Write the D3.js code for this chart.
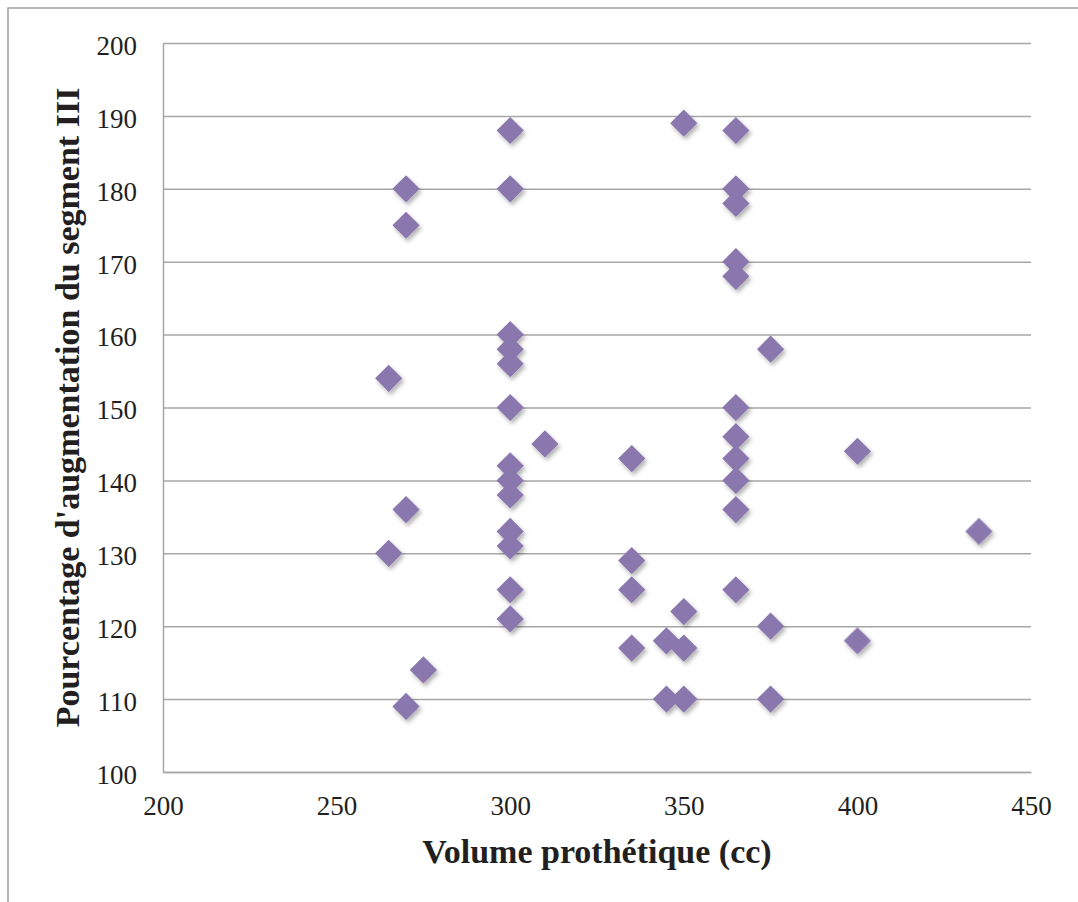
<!DOCTYPE html>
<html>
<head>
<meta charset="utf-8">
<title>Volume prothétique</title>
<script src="https://d3js.org/d3.v7.min.js"></script>
<style>
  body { margin: 0; background: #fff; }
  svg { display: block; }
  .tick text { font: 27px "Liberation Serif", serif; fill: #231f20; }
  .grid line { stroke: #a6a6a6; stroke-width: 1.5px; }
  .axis-title { font: bold 34px "Liberation Serif", serif; fill: #231f20; }
</style>
</head>
<body>
<script>

// volume (cc) of each patient
var volumes = [265, 265,
  270, 270, 270, 270,
  275,
  300, 300, 300, 300, 300, 300, 300, 300, 300, 300, 300, 300, 300,
  310,
  335, 335, 335, 335,
  345, 345,
  350, 350, 350, 350,
  365, 365, 365, 365, 365, 365, 365, 365, 365, 365, 365,
  375, 375, 375,
  400, 400,
  435];

// percentage increase of segment III
var percents = [154, 130,
  180, 175, 136, 109,
  114,
  188, 180, 160, 158, 156, 150, 142, 140, 138, 133, 131, 125, 121,
  145,
  143, 129, 125, 117,
  118, 110,
  189, 122, 117, 110,
  188, 180, 178, 170, 168, 150, 146, 143, 140, 136, 125,
  158, 120, 110,
  144, 118,
  133];

var xTicks = [200, 250, 300, 350, 400, 450];
var yTicks = [100, 110, 120, 130, 140, 150, 160, 170, 180, 190, 200];

var width = 1078, height = 902;
var plotLeft = 163, plotRight = 1031, plotTop = 43, plotBottom = 772;

var svg = d3.select("body").append("svg")
    .attr("width", width)
    .attr("height", height);

var defs = svg.append("defs");
var shadow = defs.append("filter")
    .attr("id", "shadow")
    .attr("x", "-50%").attr("y", "-50%")
    .attr("width", "200%").attr("height", "200%");
shadow.append("feDropShadow")
    .attr("dx", 2).attr("dy", 3)
    .attr("stdDeviation", 2)
    .attr("flood-color", "#000")
    .attr("flood-opacity", 0.3);

// outer frame (only top and left edges show)
svg.append("path")
    .attr("d", "M8,902V8H1078")
    .attr("fill", "none")
    .attr("stroke", "#a0a0a0")
    .attr("stroke-width", 1.5);

var x = d3.scaleLinear().domain([200, 450]).range([plotLeft, plotRight]);
var y = d3.scaleLinear().domain([100, 200]).range([plotBottom, plotTop]);

// y axis with gridlines
var yAxis = svg.append("g")
    .attr("class", "grid")
    .attr("transform", "translate(" + plotLeft + ",0)")
    .call(d3.axisLeft(y)
      .tickValues(yTicks)
      .tickSizeInner(-(plotRight - plotLeft))
      .tickSizeOuter(0)
      .tickPadding(26));
yAxis.select(".domain").attr("stroke", "#a6a6a6").attr("stroke-width", 1.5);
yAxis.selectAll(".tick text").attr("dy", "0.42em");

// x axis
var xAxis = svg.append("g")
    .attr("class", "grid")
    .attr("transform", "translate(0," + plotBottom + ")")
    .call(d3.axisBottom(x)
      .tickValues(xTicks)
      .tickSize(0)
      .tickPadding(29));
xAxis.select(".domain").attr("stroke", "#a6a6a6").attr("stroke-width", 1.5);
xAxis.selectAll(".tick text").attr("dy", "0.5em");

var points = volumes.map(function(v, i) { return {v: v, p: percents[i]}; });

var diamond = d3.symbol().type(d3.symbolSquare).size(370);

svg.append("g")
    .attr("filter", "url(#shadow)")
  .selectAll("path")
    .data(points)
  .enter().append("path")
    .attr("d", diamond)
    .attr("transform", function(d) {
      return "translate(" + x(d.v) + "," + y(d.p) + ") rotate(45)";
    })
    .attr("fill", "#8a77ad");

svg.append("text")
    .attr("class", "axis-title")
    .attr("x", (plotLeft + plotRight) / 2)
    .attr("y", 863)
    .attr("text-anchor", "middle")
    .text("Volume prothétique (cc)");

svg.append("text")
    .attr("class", "axis-title")
    .attr("transform", "translate(79," + (plotTop + plotBottom) / 2 + ") rotate(-90)")
    .attr("text-anchor", "middle")
    .text("Pourcentage d'augmentation du segment III");

</script>
</body>
</html>
